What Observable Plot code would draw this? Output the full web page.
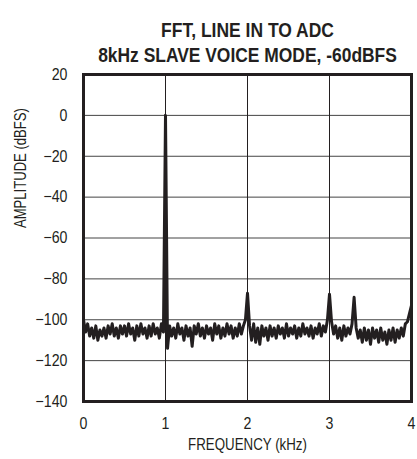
<!DOCTYPE html>
<html>
<head>
<meta charset="utf-8">
<script src="https://cdn.jsdelivr.net/npm/d3@7"></script>
<script src="https://cdn.jsdelivr.net/npm/@observablehq/plot@0.6"></script>
<style>
  html, body { margin: 0; padding: 0; background: #fff; }
  #chart svg { display: block; }
</style>
</head>
<body>
<div id="chart"></div>
<script>
const titleLines = ["FFT, LINE IN TO ADC", "8kHz SLAVE VOICE MODE, -60dBFS"];
const xLabel = "FREQUENCY (kHz)";
const yLabel = "AMPLITUDE (dBFS)";
const xTicks = [0, 1, 2, 3, 4];
const yTicks = [20, 0, -20, -40, -60, -80, -100, -120, -140];
const freqStep = 0.025; // kHz between FFT bins drawn
// amplitude (dBFS) of each drawn bin
const amplitude = [
  -100, -106, -102, -108, -104, -109, -103, -110, -105, -108,
  -104, -109, -103, -107, -102, -108, -104, -109, -103, -107,
  -103, -108, -102, -107, -104, -110, -103, -108, -102, -107,
  -104, -109, -103, -108, -102, -107, -104, -109, -102, -106,
  0,
  -114, -103, -108, -104, -109, -102, -107, -104, -110, -103,
  -108, -104, -113, -103, -107, -102, -108, -104, -109, -103,
  -107, -104, -110, -102, -107, -103, -109, -104, -108, -102,
  -107, -103, -109, -104, -108, -102, -107, -103, -100,
  -87,
  -103, -110, -102, -111, -104, -112, -103, -108, -104, -110,
  -103, -108, -104, -109, -103, -107, -104, -109, -102, -108,
  -104, -107, -103, -109, -104, -108, -102, -107, -104, -108,
  -103, -109, -104, -107, -102, -108, -103, -106, -100,
  -87.5,
  -101, -107, -103, -109, -104, -110, -103, -108, -104, -107, -102,
  -89,
  -104, -109, -105, -111, -104, -110, -105, -112, -104, -109,
  -105, -111, -104, -110, -106, -112, -105, -110, -104, -111,
  -105, -109, -104, -108, -102, -101, -97,
  -93
];
const data = amplitude.map((a, i) => ({f: i * freqStep, a}));

const font = "'Liberation Sans', Arial, sans-serif";

const chart = Plot.plot({
  width: 417,
  height: 459,
  marginLeft: 83,
  marginRight: 6,
  marginTop: 74,
  marginBottom: 58,
  style: {fontFamily: font, fontSize: "16.5px", color: "#231f20", background: "#fff"},
  x: {domain: [0, 4], axis: null},
  y: {domain: [-140, 20], axis: null},
  marks: [
    Plot.ruleY(yTicks.slice(1, -1), {stroke: "#444", strokeWidth: 1}),
    Plot.ruleX(xTicks.slice(1, -1), {stroke: "#231f20", strokeWidth: 1}),
    Plot.line(data, {x: "f", y: "a", stroke: "#231f20", strokeWidth: 3, strokeLinejoin: "round"}),
    Plot.frame({stroke: "#231f20", strokeWidth: 3}),
    Plot.axisX(xTicks, {tickSize: 0, tickPadding: 16, fontSize: 16.5, label: null}),
    Plot.axisY(yTicks, {tickSize: 0, tickPadding: 16, fontSize: 16.5, label: null}),
    Plot.text([xLabel], {frameAnchor: "bottom", dy: 48, fontSize: 16.5}),
    Plot.text([yLabel], {frameAnchor: "left", dx: -63, dy: -10, rotate: -90, fontSize: 16.5}),
    Plot.text([titleLines[0]], {frameAnchor: "top", dy: -52, fontSize: 21, fontWeight: "bold"}),
    Plot.text([titleLines[1]], {frameAnchor: "top", dy: -27, fontSize: 21, fontWeight: "bold"})
  ]
});
document.getElementById("chart").appendChild(chart);

// condense the text horizontally to mimic the narrow typeface of the original
const targetWidths = new Map([
  [titleLines[0], 173], [titleLines[1], 299], [xLabel, 119], [yLabel, 120]
]);
chart.querySelectorAll("text").forEach(t => {
  const s = t.textContent;
  const len = t.getComputedTextLength();
  if (!len) return;
  const target = targetWidths.has(s) ? targetWidths.get(s) : len * 0.86;
  const sx = target / len;
  const tr = t.getAttribute("transform");
  const hasXY = (+t.getAttribute("x") || 0) !== 0 || (+t.getAttribute("y") || 0) !== 0;
  if (tr && !hasXY) {
    t.setAttribute("transform", `${tr} scale(${sx},1)`);
  } else {
    t.setAttribute("textLength", target);
    t.setAttribute("lengthAdjust", "spacingAndGlyphs");
  }
});
</script>
</body>
</html>
